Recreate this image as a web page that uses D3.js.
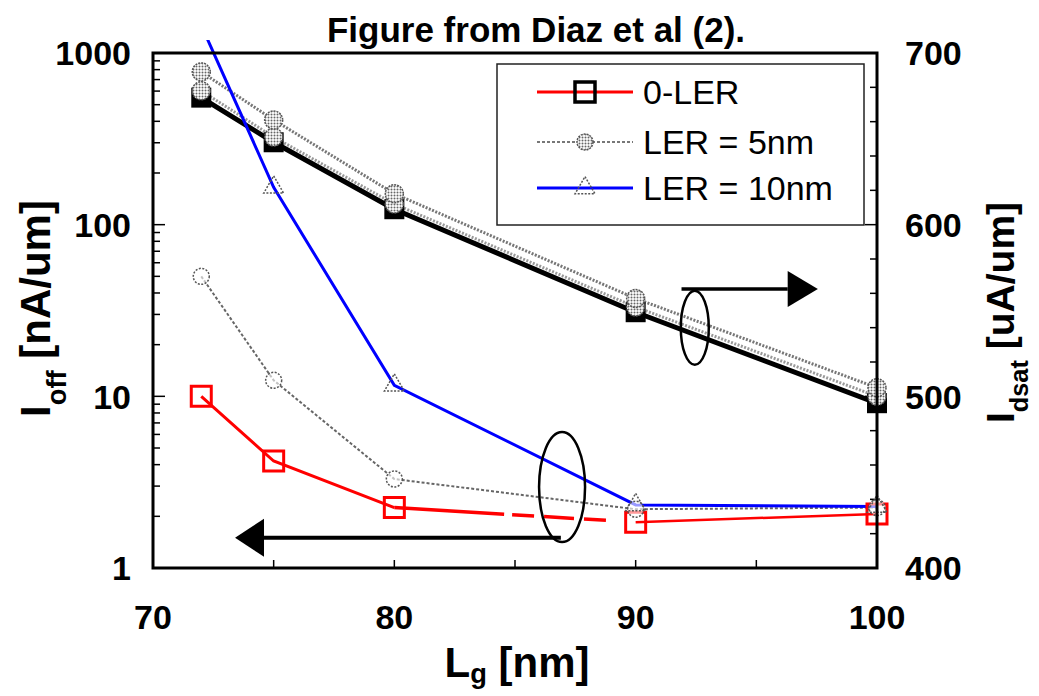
<!DOCTYPE html>
<html>
<head>
<meta charset="utf-8">
<script src="https://cdn.jsdelivr.net/npm/d3@7"></script>
<style>
  body { margin: 0; background: #fff; }
  text { font-family: "Liberation Sans", Arial, sans-serif; }
</style>
</head>
<body>
<div id="chart"></div>
<script>
// gate length (nm)
const lg = [72, 75, 80, 90, 100];
// Ioff [nA/um], left log axis
const ioff0 = [10, 4.2, 2.25, 1.85, 2.06];
const ioff5 = [50, 12.4, 3.3, 2.2, 2.25];
const ioff10 = [1450, 165, 11.6, 2.33, 2.28];
// Idsat [uA/um], right linear axis
const idsat0 = [674, 648, 609, 549, 496];
const idsat5 = [689, 661, 618, 557, 505];
const idsat10 = [678, 651, 612, 552, 500];

const xTicks = [70, 80, 90, 100];
const leftTicks = [1, 10, 100, 1000];
const rightTicks = [400, 500, 600, 700];
const legendNames = ["0-LER", "LER = 5nm", "LER = 10nm"];

const W = 1039, H = 696;
const margin = { top: 53, right: 162, bottom: 128, left: 153 };
const width = W - margin.left - margin.right;
const height = H - margin.top - margin.bottom;

const svgRoot = d3.select("#chart").append("svg")
    .attr("width", W).attr("height", H);

const defs = svgRoot.append("defs");
const pat = defs.append("pattern").attr("id", "dots")
    .attr("width", 3).attr("height", 3).attr("patternUnits", "userSpaceOnUse");
pat.append("rect").attr("width", 3).attr("height", 3).attr("fill", "#fff");
pat.append("circle").attr("cx", 1.5).attr("cy", 1.5).attr("r", 1).attr("fill", "#666");

defs.append("clipPath").attr("id", "clip")
    .append("rect").attr("x", 0).attr("y", -13).attr("width", width).attr("height", height + 13);

const svg = svgRoot.append("g")
    .attr("transform", `translate(${margin.left},${margin.top})`);

const x = d3.scaleLinear().domain([70, 100]).range([0, width]);
const yL = d3.scaleLog().domain([1, 1000]).range([height, 0]);
const yR = d3.scaleLinear().domain([400, 700]).range([height, 0]);

// title
svgRoot.append("text")
    .attr("x", 536).attr("y", 42)
    .attr("text-anchor", "middle")
    .attr("font-size", 35).attr("font-weight", "bold")
    .text("Figure from Diaz et al (2).");

// inward ticks
const minor = [];
for (let d = 1; d < 1000; d *= 10) for (let k = 1; k < 10; k++) minor.push(d * k);
minor.push(1000);
svg.append("g").selectAll("line").data(minor).join("line")
    .attr("x1", 0).attr("x2", d => leftTicks.includes(d) ? 12 : 7)
    .attr("y1", d => yL(d)).attr("y2", d => yL(d))
    .attr("stroke", "#000").attr("stroke-width", 1.5);

svg.append("g").selectAll("line").data(d3.range(400, 701, 20)).join("line")
    .attr("x1", width).attr("x2", d => width - (d % 100 === 0 ? 12 : 7))
    .attr("y1", d => yR(d)).attr("y2", d => yR(d))
    .attr("stroke", "#000").attr("stroke-width", 1.5);

svg.append("g").selectAll("line").data(d3.range(70, 101, 5)).join("line")
    .attr("x1", d => x(d)).attr("x2", d => x(d))
    .attr("y1", height).attr("y2", height - 8)
    .attr("stroke", "#000").attr("stroke-width", 1.5);

// tick labels
const tickFont = 34;
svg.append("g").selectAll("text").data(leftTicks).join("text")
    .attr("x", -22).attr("y", d => yL(d)).attr("dy", "0.36em")
    .attr("text-anchor", "end").attr("font-size", tickFont).attr("font-weight", "bold")
    .text(d => d);
svg.append("g").selectAll("text").data(rightTicks).join("text")
    .attr("x", width + 28).attr("y", d => yR(d)).attr("dy", "0.36em")
    .attr("text-anchor", "start").attr("font-size", tickFont).attr("font-weight", "bold")
    .text(d => d);
svg.append("g").selectAll("text").data(xTicks).join("text")
    .attr("x", d => x(d)).attr("y", height + 61)
    .attr("text-anchor", "middle").attr("font-size", tickFont).attr("font-weight", "bold")
    .text(d => d);

// axis titles
function subLabel(g, main, sub, rest, shift) {
    g.append("tspan").text(main);
    g.append("tspan").attr("baseline-shift", shift || "sub").attr("font-size", "65%").text(sub);
    g.append("tspan").text(rest);
}
const tl = svg.append("text")
    .attr("transform", `translate(-118,${height / 2 - 2}) rotate(-90)`)
    .attr("dy", "0.36em").attr("text-anchor", "middle")
    .attr("font-size", 42).attr("font-weight", "bold");
subLabel(tl, "I", "off", " [nA/um]");

const tr = svg.append("text")
    .attr("transform", `translate(${width + 123},${height / 2 + 2}) rotate(-90)`)
    .attr("dy", "0.36em").attr("text-anchor", "middle")
    .attr("font-size", 39).attr("font-weight", "bold");
subLabel(tr, "I", "dsat", " [uA/um]");

const tb = svg.append("text")
    .attr("x", width / 2 + 2).attr("y", height + 109)
    .attr("text-anchor", "middle")
    .attr("font-size", 42).attr("font-weight", "bold");
subLabel(tb, "L", "g", " [nm]", "-6");

// lines
const lineL = d3.line().x((d, i) => x(lg[i])).y(d => yL(d));
const lineR = d3.line().x((d, i) => x(lg[i])).y(d => yR(d));
const plot = svg.append("g").attr("clip-path", "url(#clip)");

plot.append("path").datum(idsat5).attr("d", lineR)
    .attr("fill", "none").attr("stroke", "#777").attr("stroke-width", 3).attr("stroke-dasharray", "2,1.5");
plot.append("path").datum(idsat0).attr("d", lineR)
    .attr("fill", "none").attr("stroke", "#000").attr("stroke-width", 5);
plot.append("path").datum(idsat10).attr("d", lineR)
    .attr("fill", "none").attr("stroke", "#999").attr("stroke-width", 3).attr("stroke-dasharray", "2,1.5");

plot.append("path").datum(ioff5).attr("d", lineL)
    .attr("fill", "none").attr("stroke", "#666").attr("stroke-width", 2).attr("stroke-dasharray", "3,2");

// red line: solid, dashed stretch between 80 and 90 nm
plot.append("path").datum(ioff0.slice(0, 3)).attr("d", lineL)
    .attr("fill", "none").attr("stroke", "#f00").attr("stroke-width", 3);
plot.append("path").datum([ioff0[2], ioff0[3]])
    .attr("d", d3.line().x((d, i) => x(lg[i + 2])).y(d => yL(d)))
    .attr("fill", "none").attr("stroke", "#f00").attr("stroke-width", 3.5)
    .attr("stroke-dasharray", "110,8,22,10,30,10,22,30");
plot.append("path").datum([ioff0[3], ioff0[4]])
    .attr("d", d3.line().x((d, i) => x(lg[i + 3])).y(d => yL(d)))
    .attr("fill", "none").attr("stroke", "#f00").attr("stroke-width", 2.5);

plot.append("path").datum(ioff10).attr("d", lineL)
    .attr("fill", "none").attr("stroke", "#0000ff").attr("stroke-width", 3);

// markers
const sq = d3.symbol().type(d3.symbolSquare).size(400);
const tri = d3.symbol().type(d3.symbolTriangle).size(170);

svg.append("g").selectAll("path").data(idsat0).join("path")
    .attr("transform", (d, i) => `translate(${x(lg[i])},${yR(d)})`)
    .attr("d", sq).attr("fill", "#000");
svg.append("g").selectAll("circle").data(idsat10).join("circle")
    .attr("cx", (d, i) => x(lg[i])).attr("cy", d => yR(d)).attr("r", 9)
    .attr("fill", "url(#dots)").attr("stroke", "#555").attr("stroke-width", 1.5).attr("stroke-dasharray", "2,1");
svg.append("g").selectAll("circle").data(idsat5).join("circle")
    .attr("cx", (d, i) => x(lg[i])).attr("cy", d => yR(d)).attr("r", 9)
    .attr("fill", "url(#dots)").attr("stroke", "#555").attr("stroke-width", 1.5).attr("stroke-dasharray", "2,1");

svg.append("g").selectAll("path").data(ioff0).join("path")
    .attr("transform", (d, i) => `translate(${x(lg[i])},${yL(d)})`)
    .attr("d", sq).attr("fill", "none").attr("stroke", "#f00").attr("stroke-width", 3);
svg.append("g").selectAll("circle").data(ioff5).join("circle")
    .attr("cx", (d, i) => x(lg[i])).attr("cy", d => yL(d)).attr("r", 8)
    .attr("fill", "#fff").attr("fill-opacity", 0.6)
    .attr("stroke", "#555").attr("stroke-width", 1.5).attr("stroke-dasharray", "2,1.5");
svg.append("g").selectAll("path").data(ioff10.slice(1)).join("path")
    .attr("transform", (d, i) => `translate(${x(lg[i + 1])},${yL(d)})`)
    .attr("d", tri).attr("fill", "none")
    .attr("stroke", "#555").attr("stroke-width", 1.5).attr("stroke-dasharray", "2,1.5");

// annotations: ellipses and arrows
const ann = svg.append("g").attr("fill", "none").attr("stroke", "#000");
ann.append("ellipse")
    .attr("cx", x(92.45)).attr("cy", yR(540)).attr("rx", 14).attr("ry", 37)
    .attr("stroke-width", 2.5);
ann.append("line")
    .attr("x1", x(91.9)).attr("x2", x(96.3)).attr("y1", yR(562.5)).attr("y2", yR(562.5))
    .attr("stroke-width", 3.5);
ann.append("path")
    .attr("d", `M${x(96.3)},${yR(562.5) - 18}L${x(97.55)},${yR(562.5)}L${x(96.3)},${yR(562.5) + 18}Z`)
    .attr("fill", "#000").attr("stroke", "none");

ann.append("ellipse")
    .attr("cx", x(86.95)).attr("cy", yL(2.96)).attr("rx", 23).attr("ry", 55)
    .attr("stroke-width", 2.5);
ann.append("line")
    .attr("x1", x(86.9)).attr("x2", x(74.6)).attr("y1", yL(1.5)).attr("y2", yL(1.5))
    .attr("stroke-width", 4);
ann.append("path")
    .attr("d", `M${x(74.6)},${yL(1.5) - 19}L${x(73.4)},${yL(1.5)}L${x(74.6)},${yL(1.5) + 19}Z`)
    .attr("fill", "#000").attr("stroke", "none");

// frame
svg.append("rect").attr("width", width).attr("height", height)
    .attr("fill", "none").attr("stroke", "#000").attr("stroke-width", 3);

// legend
const leg = svgRoot.append("g").attr("transform", "translate(497,64)");
leg.append("rect").attr("width", 367).attr("height", 161)
    .attr("fill", "#fff").attr("stroke", "#222").attr("stroke-width", 1.5);
const rows = leg.selectAll("g").data(legendNames).join("g")
    .attr("transform", (d, i) => `translate(0,${[28, 78, 124][i]})`);
rows.append("line").attr("x1", 40).attr("x2", 136)
    .attr("stroke", (d, i) => ["#f00", "#777", "#0000ff"][i])
    .attr("stroke-width", (d, i) => [3, 2, 3][i])
    .attr("stroke-dasharray", (d, i) => i === 1 ? "3,2" : null);
rows.filter((d, i) => i === 0).append("path").attr("transform", "translate(88,0)")
    .attr("d", sq).attr("fill", "none").attr("stroke", "#000").attr("stroke-width", 3.5);
rows.filter((d, i) => i === 1).append("circle").attr("cx", 88).attr("r", 8)
    .attr("fill", "url(#dots)").attr("stroke", "#555").attr("stroke-width", 1.5).attr("stroke-dasharray", "2,1");
rows.filter((d, i) => i === 2).append("path").attr("transform", "translate(88,0)")
    .attr("d", tri).attr("fill", "none").attr("stroke", "#555").attr("stroke-width", 1.5).attr("stroke-dasharray", "2,1.5");
rows.append("text").attr("x", 146).attr("dy", "0.36em")
    .attr("font-size", 34).text(d => d);
</script>
</body>
</html>
